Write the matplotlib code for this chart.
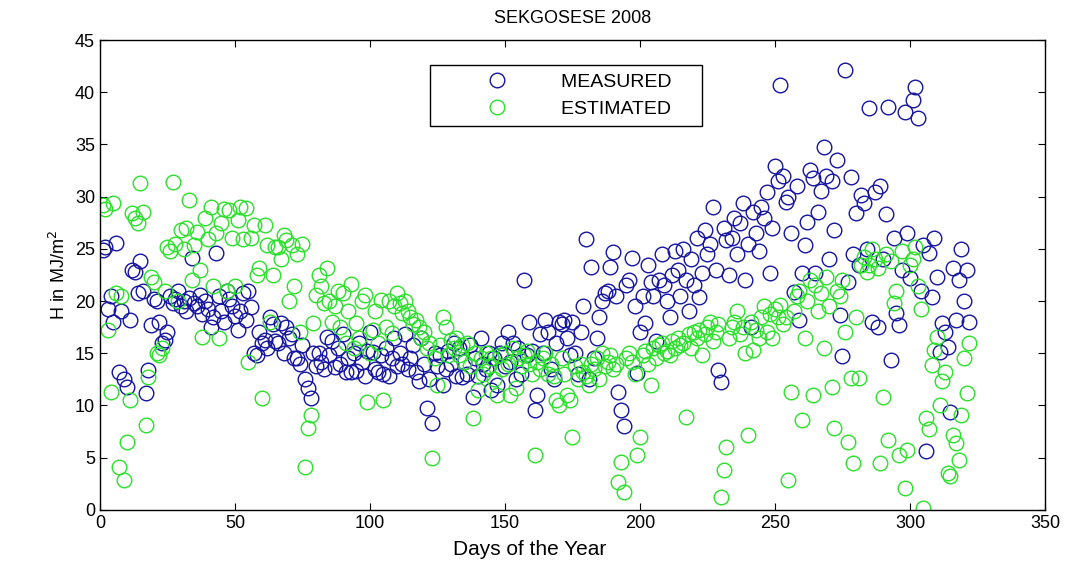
import numpy as np
import matplotlib.pyplot as plt

## DATA
#
measured = [
    24.9, 25.2, 19.2, 20.5, 18.0, 25.6, 13.2, 19.0, 12.5, 11.8,
    18.2, 23.0, 22.8, 20.8, 23.8, 21.0, 11.2, 13.4, 17.7, 20.2,
    20.0, 18.0, 16.0, 16.3, 17.0, 20.5, 19.8, 20.2, 21.0, 19.5,
    20.0, 19.0, 20.3, 24.1, 19.8, 19.5, 20.6, 18.8, 20.0, 19.2,
    17.5, 18.5, 24.6, 20.5, 19.0, 18.0, 21.0, 20.2, 19.5, 18.6,
    17.2, 19.0, 20.8, 18.2, 21.0, 19.4, 15.0, 14.8, 17.0, 16.0,
    16.3, 15.5, 18.5, 17.8, 16.2, 16.0, 17.9, 15.0, 17.5, 16.5,
    16.8, 14.5, 14.5, 14.0, 15.8, 12.5, 11.7, 10.7, 15.0, 13.8,
    15.0, 14.2, 13.5, 16.6, 14.8, 16.2, 13.7, 15.5, 14.0, 16.8,
    13.2, 14.5, 13.2, 15.0, 13.3, 16.0, 14.2, 12.8, 15.2, 17.0,
    15.1, 13.5, 13.2, 14.8, 13.0, 15.5, 12.8, 14.5, 16.5, 13.8,
    15.0, 14.0, 16.8, 13.5, 14.5, 15.8, 13.2, 12.3, 16.5, 14.0,
    9.8, 12.5, 8.3, 15.0, 13.8, 14.8, 12.0, 13.5, 15.2, 14.0,
    16.0, 12.8, 15.5, 12.7, 14.2, 13.0, 15.8, 10.8, 14.5, 12.8,
    16.5, 14.0, 13.5, 15.0, 11.5, 14.5, 12.0, 15.0, 16.0, 13.8,
    17.0, 14.2, 16.0, 12.5, 15.5, 13.0, 22.0, 14.8, 18.0, 15.2,
    9.6, 11.0, 16.8, 15.0, 18.2, 17.0, 13.5, 12.5, 16.0, 18.0,
    17.8, 18.2, 16.5, 14.8, 18.0, 15.0, 13.0, 17.0, 19.5, 25.9,
    12.5, 23.3, 14.5, 16.5, 18.5, 20.0, 20.8, 21.0, 23.3, 24.7,
    20.5, 11.3, 9.6, 8.0, 21.5, 22.0, 24.1, 19.5, 13.1, 17.0,
    20.5, 17.9, 23.5, 21.8, 20.5, 16.2, 22.0, 24.5, 21.5, 20.0,
    18.5, 22.5, 24.8, 23.0, 20.5, 25.0, 22.0, 19.0, 24.0, 21.5,
    26.0, 20.4, 22.7, 26.8, 24.5, 25.5, 29.0, 23.0, 13.4, 12.2,
    27.0, 25.8, 22.5, 26.0, 28.0, 24.5, 27.5, 29.4, 22.0, 25.5,
    17.5, 28.5, 26.5, 24.8, 29.0, 28.0, 30.4, 22.7, 27.0, 32.9,
    31.5, 40.7, 32.0, 29.5, 30.0, 26.5, 20.9, 31.0, 18.2, 22.7,
    25.4, 27.6, 32.6, 31.8, 22.7, 28.5, 30.5, 34.8, 32.0, 24.0,
    31.5, 26.8, 33.5, 18.7, 14.7, 42.1, 21.8, 31.9, 24.5, 28.4,
    23.5, 30.2, 29.4, 25.0, 38.5, 18.0, 30.4, 17.5, 31.0, 24.0,
    28.3, 38.6, 14.4, 26.0, 18.9, 17.7, 23.0, 38.1, 26.5, 22.2,
    39.3, 40.5, 37.5, 21.0, 25.4, 5.6, 24.6, 20.4, 26.0, 22.3,
    15.1, 17.9, 17.0, 15.6, 9.4, 23.2, 18.2, 22.0, 25.0, 20.0,
    23.0, 18.0,
]

estimated = [
    29.2, 28.8, 17.2, 11.3, 29.4, 20.8, 4.1, 20.5, 2.9, 6.5,
    10.5, 28.4, 28.0, 27.5, 31.3, 28.5, 8.1, 12.7, 22.3, 21.8,
    15.0, 14.8, 15.5, 21.0, 25.2, 24.8, 31.4, 25.5, 20.0, 26.8,
    25.0, 27.0, 29.7, 22.0, 25.4, 26.6, 23.0, 16.6, 28.0, 25.9,
    29.0, 21.4, 26.5, 16.5, 27.5, 28.8, 21.0, 28.7, 26.0, 21.4,
    27.8, 29.0, 25.9, 28.9, 14.2, 26.0, 27.3, 22.5, 23.2, 10.7,
    27.3, 25.4, 18.0, 22.5, 25.2, 25.2, 24.0, 26.3, 25.8, 20.0,
    25.4, 21.4, 24.5, 17.0, 25.5, 4.1, 7.8, 9.1, 17.9, 20.6,
    22.5, 21.4, 19.8, 23.2, 20.0, 18.0, 19.5, 21.0, 17.5, 20.8,
    16.0, 19.0, 21.6, 15.5, 17.9, 16.5, 20.0, 20.6, 10.3, 15.0,
    17.2, 19.0, 16.0, 20.1, 10.5, 17.5, 20.0, 16.9, 19.5, 20.8,
    19.8, 18.9, 20.0, 19.0, 18.5, 17.8, 18.2, 17.5, 16.5, 17.0,
    15.5, 16.0, 5.0, 14.5, 12.0, 15.8, 18.5, 17.5, 14.8, 16.3,
    15.5, 16.5, 14.8, 15.8, 14.2, 16.0, 13.8, 8.8, 15.0, 11.5,
    14.5, 13.0, 15.0, 13.8, 14.5, 12.5, 11.0, 14.8, 13.5, 15.0,
    14.0, 11.0, 15.5, 11.7, 14.5, 13.8, 14.8, 15.2, 14.0, 13.0,
    5.3, 14.2, 13.5, 14.5, 15.0, 13.0, 14.0, 12.8, 10.5, 10.0,
    14.5, 13.0, 11.0, 10.5, 7.0, 13.8, 12.5, 14.0, 13.2, 12.8,
    12.0, 14.0, 13.5, 14.5, 12.5, 15.0, 13.8, 14.2, 14.8, 13.5,
    14.0, 2.7, 4.6, 1.7, 14.5, 15.0, 14.2, 13.0, 5.3, 7.0,
    14.8, 15.2, 14.0, 12.0, 15.5, 14.5, 15.8, 16.0, 15.0, 15.2,
    14.8, 16.2, 15.5, 16.5, 15.8, 16.0, 8.9, 16.8, 15.5, 17.0,
    16.5, 17.2, 14.8, 16.8, 17.5, 18.0, 16.2, 17.0, 17.8, 1.2,
    3.8, 6.0, 16.5, 17.5, 18.0, 19.0, 16.8, 17.5, 15.0, 7.2,
    18.0, 15.3, 17.2, 16.5, 18.5, 19.5, 17.0, 18.8, 16.5, 19.2,
    18.5, 19.6, 17.8, 18.5, 2.9, 11.3, 19.0, 20.5, 21.0, 8.6,
    16.5, 20.0, 22.0, 11.0, 21.5, 19.0, 20.8, 15.5, 22.3, 19.5,
    11.8, 7.8, 21.0, 20.5, 22.0, 17.0, 6.5, 12.6, 4.5, 18.5,
    12.6, 23.5, 24.2, 22.8, 23.5, 25.0, 24.0, 23.2, 4.5, 10.8,
    24.5, 6.7, 23.8, 19.8, 21.0, 5.3, 24.8, 2.1, 5.7, 23.5,
    24.0, 25.2, 21.4, 19.2, 0.2, 8.8, 7.7, 13.9, 15.3, 16.6,
    10.0, 12.3, 13.2, 3.5, 3.2, 7.2, 6.4, 4.8, 9.1, 14.5,
    11.2, 16.0,
]

dayM = np.arange(1, len(measured) + 1)
dayE = np.arange(1, len(estimated) + 1)

## PLOT
#
plt.rcParams['font.family'] = ['Liberation Sans', 'DejaVu Sans']
fig = plt.figure(figsize=(10.74, 5.64), dpi=100)
ax = fig.add_axes([0.093, 0.096, 0.880, 0.833])

ax.plot(dayM, measured, 'o', mfc='none', mec='#1414a0', mew=1.0, ms=10.5, label='MEASURED    ')
ax.plot(dayE, estimated, 'o', mfc='none', mec='#2ae02a', mew=1.0, ms=10.5, label='ESTIMATED    ')

ax.set_xlim(0, 350)
ax.set_ylim(0, 45)
ax.set_xticks(np.arange(0, 351, 50))
ax.set_yticks(np.arange(0, 46, 5))
ax.tick_params(direction='in', labelsize=13, length=5, top=True, right=True)
for s in ax.spines.values():
    s.set_linewidth(1.0)

ax.set_title('SEKGOSESE 2008', fontsize=13, pad=12)
ax.set_xlabel('Days of the Year', fontsize=15)
ax.xaxis.set_label_coords(0.455, -0.065)
ax.set_ylabel('H in MJ/m$^2$', fontsize=13)

leg = ax.legend(loc='upper left', bbox_to_anchor=(0.349, 0.947), fontsize=14,
                fancybox=False, edgecolor='black', framealpha=1,
                handletextpad=0.3, handlelength=6.0, borderpad=0.45,
                labelspacing=0.45, borderaxespad=0)
leg.get_frame().set_linewidth(1.0)

fig.savefig('out.png', dpi=100)
